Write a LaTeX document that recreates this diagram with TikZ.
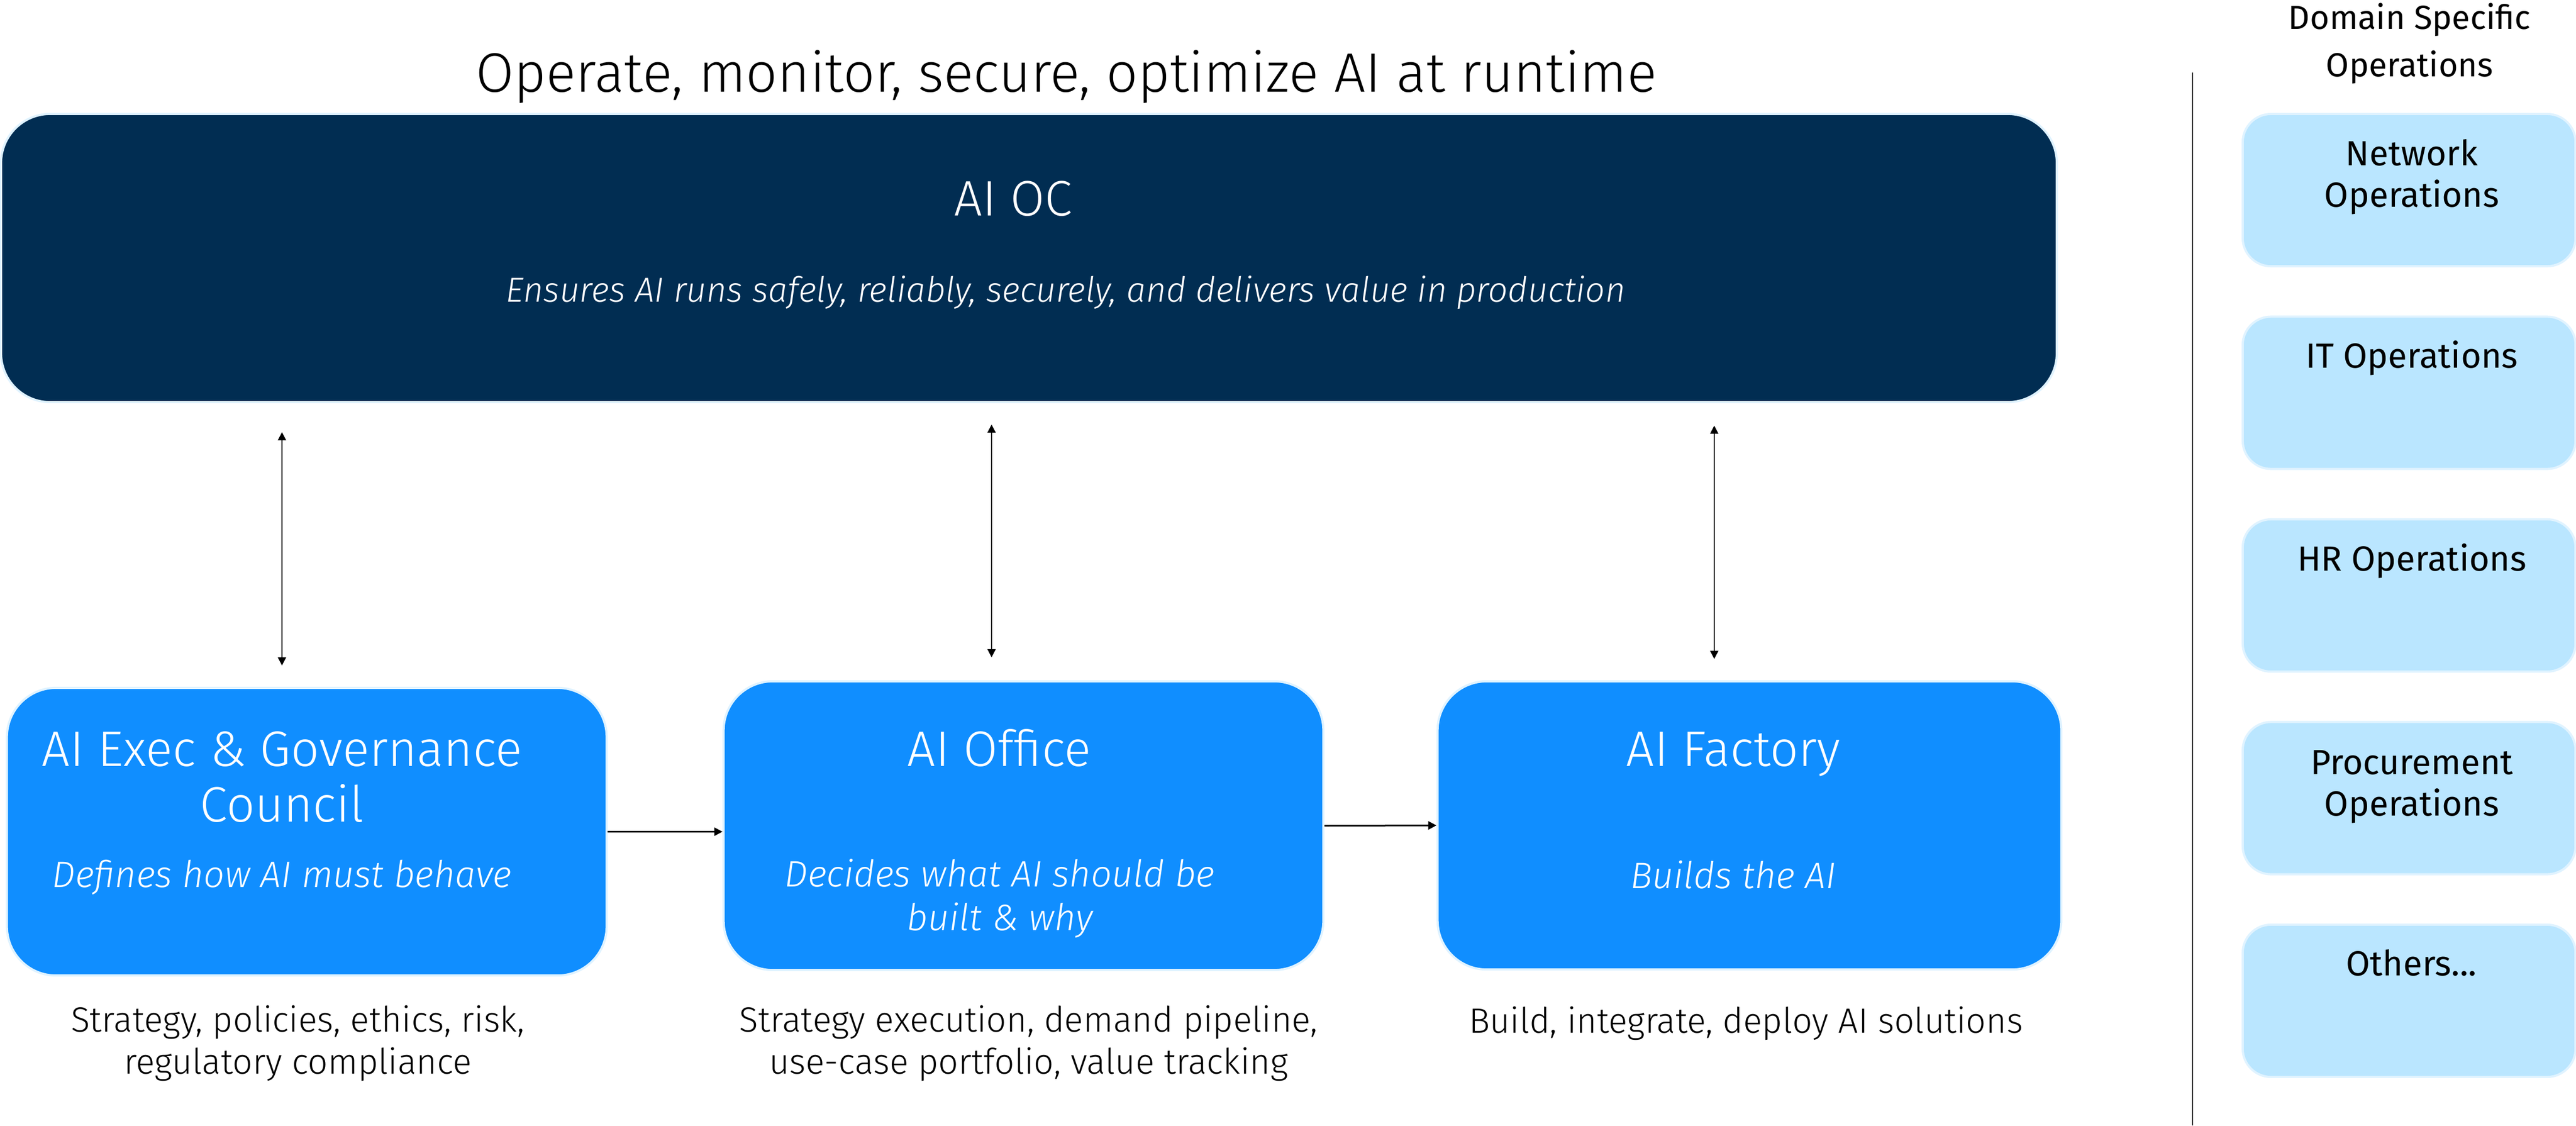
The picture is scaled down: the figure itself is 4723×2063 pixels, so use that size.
\documentclass[tikz,border=0pt]{standalone}
\usepackage{fontspec}
\setmainfont{Fira Sans Light}[ItalicFont={Fira Sans Light Italic}]
\newfontfamily\regfont{Fira Sans}
\usetikzlibrary{arrows.meta}
\definecolor{navy}{RGB}{1,45,82}
\definecolor{azure}{RGB}{16,142,255}
\definecolor{sky}{RGB}{186,230,255}
\definecolor{edge}{RGB}{224,243,255}
\definecolor{sep}{RGB}{40,40,40}
\tikzset{
  box/.style={rounded corners=0.9cm, draw=edge, line width=0.04cm, inner sep=0pt, anchor=center},
  darkbox/.style={box, fill=navy, minimum width=37.67cm, minimum height=5.28cm},
  bluebox/.style={box, fill=azure, minimum height=5.28cm},
  opsbox/.style={rounded corners=0.52cm, fill=sky, draw=edge, line width=0.04cm, inner sep=0pt,
                 minimum width=6.1cm, minimum height=2.79cm},
  txt/.style={anchor=base, inner sep=0pt, align=center},
  ttl/.style={txt, text=white, font=\fontsize{26}{29}\selectfont},
  sub/.style={txt, text=white, font=\fontsize{19.2}{22.5}\selectfont\itshape},
  desc/.style={txt, text=black, font=\fontsize{18.3}{21.9}\selectfont},
  opstxt/.style={txt, text=black, font=\regfont\fontsize{18.2}{21.6}\selectfont},
  varrow/.style={{Triangle[length=0.15cm,width=0.15cm]}-{Triangle[length=0.15cm,width=0.15cm]}, line width=0.02cm, black},
  harrow/.style={-{Triangle[length=0.15cm,width=0.15cm]}, line width=0.03cm, black},
}
\begin{document}
\begin{tikzpicture}[x=0.01cm,y=-0.01cm]
\useasboundingbox (0,0) rectangle (4723,2063);
\fill[white] (0,0) rectangle (4723,2063);

% title
\node[txt, font=\fontsize{28.9}{34}\selectfont] (title) at (1955,168) {Operate, monitor, secure, optimize AI at runtime};

% AI OC
\node[darkbox] (aioc) at (1886.5,473) {};
\node[ttl] (aioct) at (1858,395) {AI OC};
\node[sub, font=\fontsize{18.1}{22}\selectfont\itshape] (aiocs) at (1954,553) {Ensures AI runs safely, reliably, securely, and delivers value in production};

% bottom boxes
\node[bluebox, minimum width=10.99cm, minimum height=5.27cm] (exec) at (562.5,1524.5) {};
\node[bluebox, minimum width=10.99cm, minimum height=5.29cm] (office) at (1876.5,1513.5) {};
\node[bluebox, minimum width=11.43cm] (factory) at (3207.5,1513) {};

\node[ttl] (exect) at (517,1506) {AI Exec \& Governance\\Council};
\node[sub] (execs) at (517,1626) {Defines how AI must behave};
\node[ttl] (officet) at (1832,1404) {AI Office};
\node[sub] (offices) at (1833,1705) {Decides what AI should be\\built \& why};
\node[ttl] (factoryt) at (3178,1404) {AI Factory};
\node[sub] (factorys) at (3178,1628) {Builds the AI};

\node[desc] (execd) at (546,1968) {Strategy, policies, ethics, risk,\\regulatory compliance};
\node[desc] (officed) at (1886,1968) {Strategy execution, demand pipeline,\\use-case portfolio, value tracking};
\node[desc] (factoryd) at (3201,1893) {Build, integrate, deploy AI solutions};

% vertical two-way arrows
\coordinate (a1) at (517,0);
\coordinate (a2) at (1818,0);
\coordinate (a3) at (3143,0);
\draw[varrow, shorten <=0.53cm, shorten >=0.39cm] (aioc.south -| a1) -- (exec.north -| a1);
\draw[varrow, shorten <=0.39cm, shorten >=0.42cm] (aioc.south -| a2) -- (office.north -| a2);
\draw[varrow, shorten <=0.41cm, shorten >=0.39cm] (aioc.south -| a3) -- (factory.north -| a3);

% horizontal arrows
\draw[harrow] (exec.east) -- (exec.east -| office.west);
\draw[harrow] (office.east) -- (factory.west);

% separator
\coordinate (septop) at (4020,133);
\coordinate (sepbot) at (4020,2063);
\draw[sep, line width=0.025cm] (septop) -- (sepbot);

% domain specific operations
\node[txt, font=\regfont\fontsize{17.4}{24.5}\selectfont] (dso) at (4418,140) {Domain Specific\\Operations};
\node[opsbox] (net) at (4417,348.5) {};
\node[opsbox] (it) at (4417,720) {};
\node[opsbox] (hr) at (4417,1091.5) {};
\node[opsbox] (proc) at (4417,1463) {};
\node[opsbox] (oth) at (4417,1834.5) {};
\node[opstxt] (nett) at (4422,379) {Network\\Operations};
\node[opstxt] (itt) at (4422,674) {IT Operations};
\node[opstxt] (hrt) at (4422,1046) {HR Operations};
\node[opstxt] (proct) at (4422,1495) {Procurement\\Operations};
\node[opstxt] (otht) at (4421,1788) {Others...};
\end{tikzpicture}
\end{document}
